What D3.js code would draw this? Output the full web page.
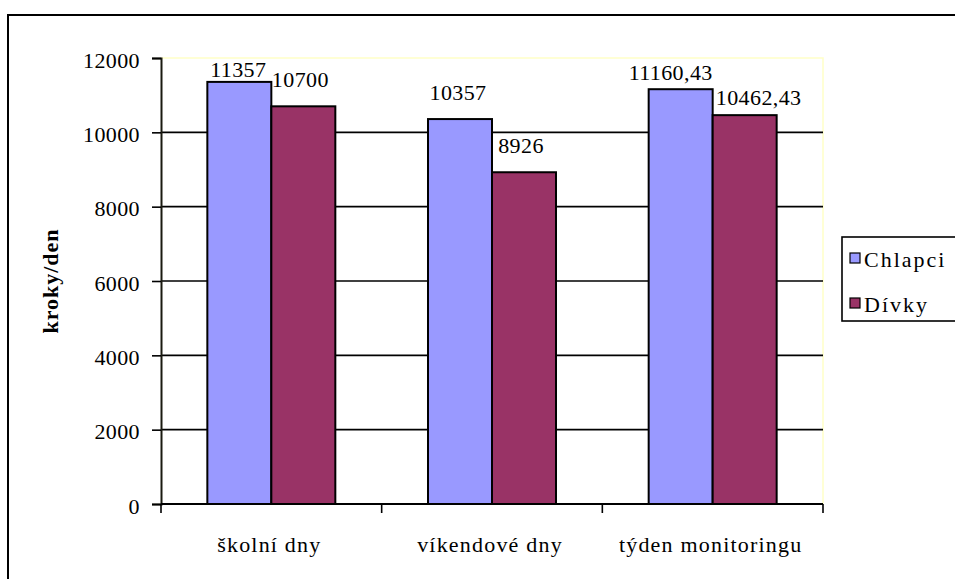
<!DOCTYPE html>
<html>
<head>
<meta charset="utf-8">
<script src="https://cdn.jsdelivr.net/npm/d3@7"></script>
<style>
  html, body { margin: 0; padding: 0; background: #fff; }
  svg { display: block; }
  text { font-family: "Liberation Serif", "Times New Roman", serif; fill: #000; }
</style>
</head>
<body>
<svg id="chart" width="955" height="579"></svg>
<script>
// Průměrný počet kroků za den
const categories = ["školní dny", "víkendové dny", "týden monitoringu"];
const seriesNames = ["Chlapci", "Dívky"];
const chlapci = [11357, 10357, 11160.43];
const divky = [10700, 8926, 10462.43];
const valueLabels = [["11357", "10357", "11160,43"], ["10700", "8926", "10462,43"]];
const yTicks = [0, 2000, 4000, 6000, 8000, 10000, 12000];
const colors = ["#9999FF", "#993366"];

const series = [chlapci, divky];

// label nudges (px) so the value labels sit where the spreadsheet put them
const labelLift = [[5, 19, 9], [19, 19, 10]];
const labelShift = [[-1, -2, -10], [-3, -3, 14]];

const svg = d3.select("#chart");
const plot = { left: 161, right: 823, top: 58, bottom: 504 };

// outer chart frame (runs off the right and bottom edges)
svg.append("path")
  .attr("d", "M8,579 L8,15 L955,15")
  .attr("fill", "none").attr("stroke", "#000").attr("stroke-width", 2);

const x = d3.scaleBand()
  .domain(categories)
  .range([plot.left, plot.right])
  .paddingInner(0.42)
  .paddingOuter(0.21);

const xSub = d3.scaleBand()
  .domain(seriesNames)
  .range([0, x.bandwidth()]);

const y = d3.scaleLinear().domain([0, 12000]).range([plot.bottom, plot.top]);

// plot area border (light)
svg.append("path")
  .attr("d", `M${plot.left},${plot.top} L${plot.right},${plot.top} L${plot.right},${plot.bottom}`)
  .attr("fill", "none").attr("stroke", "#FFFFC8").attr("stroke-width", 1.5);

// horizontal gridlines
svg.append("g").selectAll("line")
  .data(yTicks.filter(d => d > 0 && d < 12000))
  .join("line")
  .attr("x1", plot.left).attr("x2", plot.right)
  .attr("y1", d => y(d)).attr("y2", d => y(d))
  .attr("stroke", "#000").attr("stroke-width", 1.6);

// y axis
const yAxis = d3.axisLeft(y).tickValues(yTicks).tickSize(9).tickPadding(12).tickFormat(d3.format("d"));
const gy = svg.append("g").attr("transform", `translate(${plot.left},0)`).call(yAxis);
gy.select(".domain").attr("stroke", "#1a1a10").attr("stroke-width", 2);
gy.selectAll(".tick line").attr("stroke", "#000").attr("stroke-width", 1.6);
gy.selectAll(".tick text")
  .attr("font-size", 22).attr("letter-spacing", 0.4)
  .attr("font-family", "Liberation Serif, Times New Roman, serif")
  .attr("dy", "0.42em");

// bars
const groups = svg.append("g").selectAll("g")
  .data(seriesNames)
  .join("g")
  .attr("fill", (d, i) => colors[i]);

groups.each(function(name, si) {
  d3.select(this).selectAll("rect")
    .data(categories)
    .join("rect")
    .attr("x", c => x(c) + xSub(name))
    .attr("width", xSub.bandwidth())
    .attr("y", (c, ci) => y(series[si][ci]))
    .attr("height", (c, ci) => y(0) - y(series[si][ci]))
    .attr("stroke", "#000").attr("stroke-width", 2);
});

// value labels
groups.each(function(name, si) {
  d3.select(this).selectAll("text")
    .data(categories)
    .join("text")
    .attr("x", (c, ci) => x(c) + xSub(name) + xSub.bandwidth() / 2 + labelShift[si][ci])
    .attr("y", (c, ci) => y(series[si][ci]) - labelLift[si][ci])
    .attr("text-anchor", "middle")
    .attr("font-size", 22).attr("letter-spacing", 0.4)
    .style("fill", "#000")
    .text((c, ci) => valueLabels[si][ci]);
});

// x axis line and category separators
svg.append("line")
  .attr("x1", plot.left).attr("x2", plot.right)
  .attr("y1", plot.bottom).attr("y2", plot.bottom)
  .attr("stroke", "#000").attr("stroke-width", 2);

const step = x.step();
const boundaries = d3.range(categories.length + 1).map(i => plot.left + i * step);
svg.append("g").selectAll("line")
  .data(boundaries)
  .join("line")
  .attr("x1", d => d).attr("x2", d => d)
  .attr("y1", plot.bottom).attr("y2", plot.bottom + 9)
  .attr("stroke", "#000").attr("stroke-width", 1.6);

svg.append("g").selectAll("text")
  .data(categories)
  .join("text")
  .attr("x", d => x(d) + x.bandwidth() / 2 - 2)
  .attr("y", 552)
  .attr("text-anchor", "middle")
  .attr("font-size", 22).attr("letter-spacing", 1.2)
  .text(d => d);

// y axis title
svg.append("text")
  .attr("transform", `translate(58,${(plot.top + plot.bottom) / 2}) rotate(-90)`)
  .attr("text-anchor", "middle")
  .attr("font-size", 22).attr("font-weight", "bold").attr("letter-spacing", 1)
  .text("kroky/den");

// legend
const legend = svg.append("g").attr("transform", "translate(842,237)");
legend.append("rect")
  .attr("x", 0).attr("y", 0).attr("width", 130).attr("height", 84)
  .attr("fill", "#fff").attr("stroke", "#000").attr("stroke-width", 1.6);
const items = legend.selectAll("g.item")
  .data(seriesNames)
  .join("g").attr("class", "item")
  .attr("transform", (d, i) => `translate(0,${i * 45})`);
items.append("rect")
  .attr("x", 8).attr("y", 16).attr("width", 10).attr("height", 10)
  .attr("fill", (d, i) => colors[i]).attr("stroke", "#000").attr("stroke-width", 1.2);
items.append("text")
  .attr("x", 22).attr("y", 30)
  .attr("font-size", 22).attr("letter-spacing", 2)
  .text(d => d);
</script>
</body>
</html>
